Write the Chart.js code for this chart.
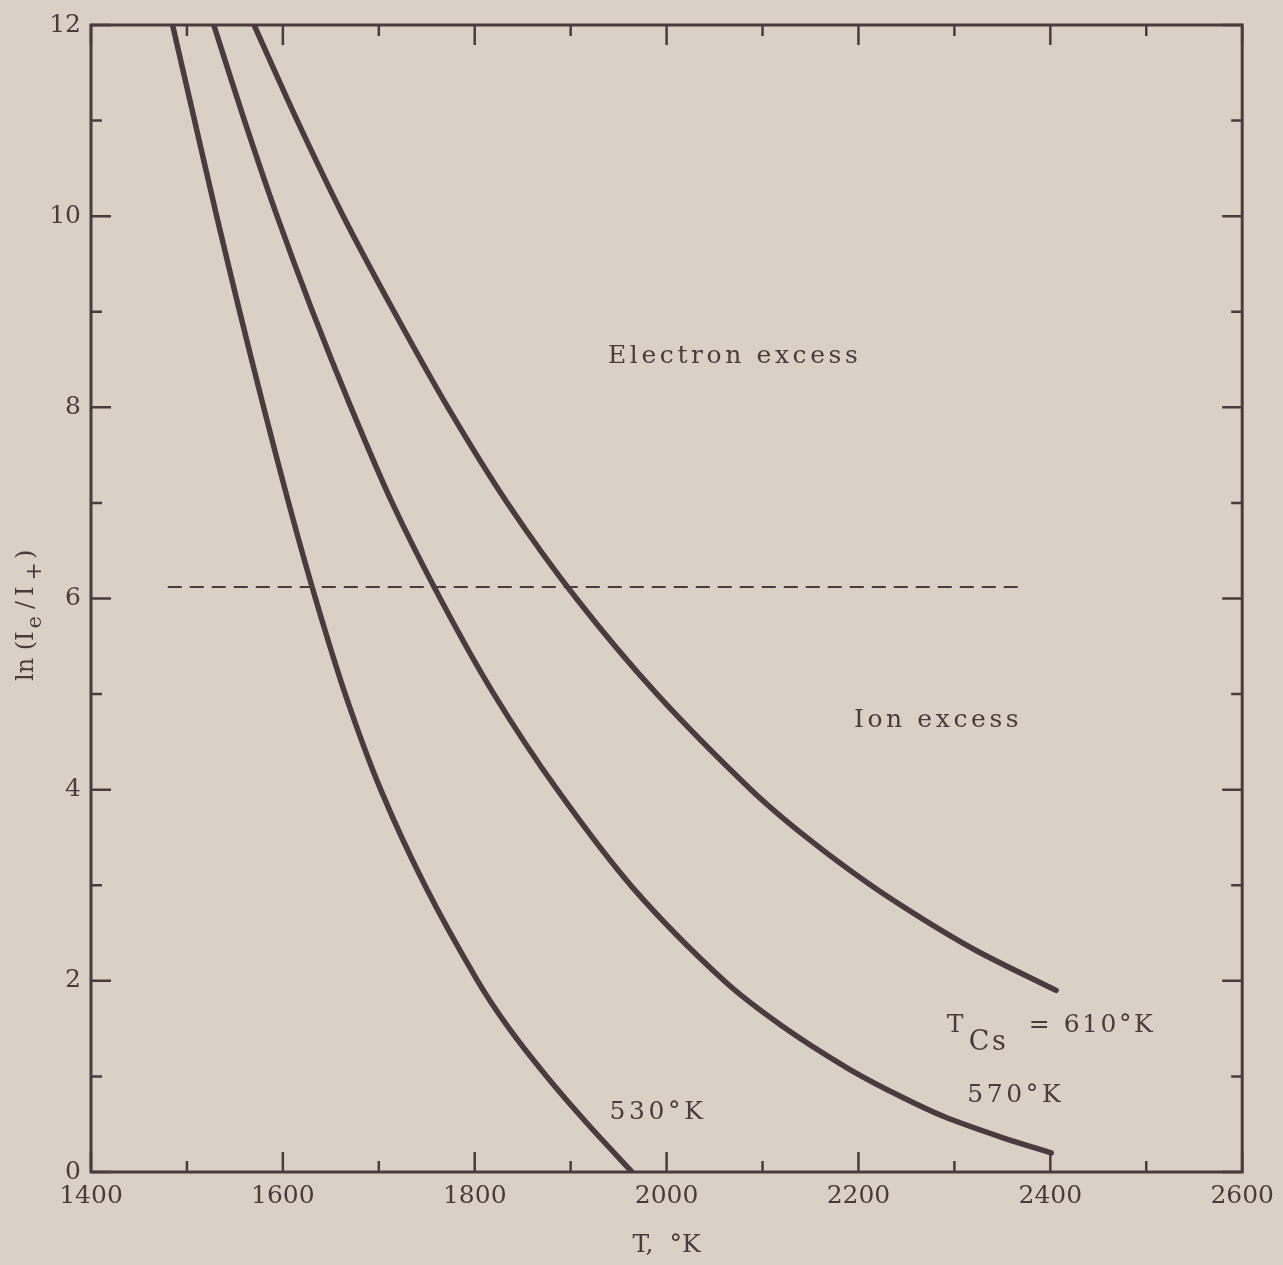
<!DOCTYPE html>
<html>
<head>
<meta charset="utf-8">
<script src="https://cdn.jsdelivr.net/npm/chart.js@4.4.1/dist/chart.umd.min.js"></script>
<style>
  html, body { margin: 0; padding: 0; background: #d9d1c5; }
  #wrap { width: 1283px; height: 1265px; }
</style>
</head>
<body>
<div id="wrap"><canvas id="chart"></canvas></div>
<script>
// values: T in K, ln(Ie/I+)
const temps530 = [1485, 1508, 1531, 1555, 1580, 1606, 1634, 1665, 1702, 1748, 1803, 1836, 1875, 1918, 1964];
const ln530    = [12, 11, 10, 9, 8, 7, 6, 5, 4, 3, 2, 1.5, 1, 0.5, 0];

const temps570 = [1528, 1560, 1594, 1631, 1671, 1714, 1764, 1820, 1886, 1966, 2060, 2120, 2188, 2240, 2289, 2350, 2401];
const ln570    = [12, 11, 10, 9, 8, 7, 6, 5, 4, 2.96, 2.0, 1.53, 1.09, 0.81, 0.58, 0.36, 0.20];

const temps610 = [1570, 1615, 1663, 1716, 1772, 1834, 1906, 1990, 2088, 2146, 2210, 2268, 2324, 2406];
const ln610    = [12, 11, 10, 9, 8, 7, 6, 5, 4, 3.5, 3.02, 2.64, 2.31, 1.90];

// dashed boundary between electron and ion excess
const dashTemps = [1480, 2374];
const dashLn    = [6.12, 6.12];

const xLabels = [1400, 1600, 1800, 2000, 2200, 2400, 2600];
const yLabels = [0, 2, 4, 6, 8, 10, 12];

const ink = '#4a3b3f';
const paper = '#d9d1c5';
const serif = 'DejaVu Serif';

const toPoints = (xs, ys) => xs.map((x, i) => ({ x: x, y: ys[i] }));

const curve = (label, xs, ys) => ({
    label: label,
    data: toPoints(xs, ys),
    borderColor: ink,
    borderWidth: 5.5,
    borderCapStyle: 'round',
    pointRadius: 0,
    tension: 0.3,
    fill: false
});

// background + frame + inward ticks on all four sides
const frameTicks = {
    id: 'frameTicks',
    beforeDraw(chart) {
        const ctx = chart.ctx;
        ctx.save();
        ctx.fillStyle = paper;
        ctx.fillRect(0, 0, chart.width, chart.height);
        ctx.restore();
    },
    afterDraw(chart) {
        const { ctx, chartArea: a, scales: { x, y } } = chart;
        ctx.save();
        ctx.strokeStyle = ink;
        ctx.lineWidth = 3;
        ctx.strokeRect(a.left, a.top, a.right - a.left, a.bottom - a.top);
        ctx.lineWidth = 2.5;
        ctx.beginPath();
        x.ticks.forEach(t => {
            const px = x.getPixelForValue(t.value);
            const len = xLabels.includes(t.value) ? 20 : 11;
            ctx.moveTo(px, a.bottom); ctx.lineTo(px, a.bottom - len);
            ctx.moveTo(px, a.top); ctx.lineTo(px, a.top + len);
        });
        y.ticks.forEach(t => {
            const py = y.getPixelForValue(t.value);
            const len = yLabels.includes(t.value) ? 20 : 11;
            ctx.moveTo(a.left, py); ctx.lineTo(a.left + len, py);
            ctx.moveTo(a.right, py); ctx.lineTo(a.right - len, py);
        });
        ctx.stroke();
        ctx.restore();
    }
};

// region and curve labels, placed in data coordinates
const notes = [
    { text: 'Electron excess', t: 2071, v: 8.53 },
    { text: 'Ion excess', t: 2283, v: 4.72 },
    { text: '530°K', t: 1991, v: 0.62 },
    { text: '570°K', t: 2364, v: 0.80 }
];

const annotations = {
    id: 'annotations',
    afterDraw(chart) {
        const { ctx, scales: { x, y } } = chart;
        ctx.save();
        ctx.fillStyle = ink;
        ctx.font = '25px "' + serif + '"';
        ctx.letterSpacing = '3.6px';
        ctx.textAlign = 'center';
        ctx.textBaseline = 'middle';
        notes.forEach(n => ctx.fillText(n.text, x.getPixelForValue(n.t), y.getPixelForValue(n.v)));

        // T_Cs = 610°K
        const bx = x.getPixelForValue(2292);
        const by = y.getPixelForValue(1.46);
        ctx.textAlign = 'left';
        ctx.textBaseline = 'alphabetic';
        ctx.letterSpacing = '2.5px';
        ctx.fillText('T', bx, by);
        ctx.font = '27px "' + serif + '"';
        ctx.fillText('Cs', bx + 22, by + 18);
        ctx.font = '25px "' + serif + '"';
        ctx.fillText('=', bx + 82, by);
        ctx.fillText('610°K', bx + 117, by);

        // y-axis title ln(Ie/I+)
        ctx.translate(33, 681);
        ctx.rotate(-Math.PI / 2);
        ctx.letterSpacing = '0px';
        let cx = 0;
        const piece = (s, size, dy, gap) => {
            ctx.font = size + 'px "' + serif + '"';
            ctx.fillText(s, cx, dy);
            cx += ctx.measureText(s).width + gap;
        };
        piece('ln (I', 24, 0, 3);
        piece('e', 21, 8, 7);
        piece('/', 24, 0, 5);
        piece('I', 24, 0, 6);
        piece('+', 22, 8, 3);
        piece(')', 24, 0, 0);
        ctx.restore();
    }
};

Chart.defaults.font.family = serif;
Chart.defaults.color = ink;

new Chart(document.getElementById('chart'), {
    type: 'line',
    data: {
        datasets: [
            curve('530°K', temps530, ln530),
            curve('570°K', temps570, ln570),
            curve('610°K', temps610, ln610),
            {
                label: 'boundary',
                data: toPoints(dashTemps, dashLn),
                borderColor: ink,
                borderWidth: 2,
                borderDash: [14, 8],
                pointRadius: 0,
                fill: false
            }
        ]
    },
    options: {
        responsive: true,
        maintainAspectRatio: false,
        animation: false,
        layout: { padding: { top: 22, right: 33, left: 0, bottom: 0 } },
        plugins: {
            legend: { display: false },
            tooltip: { enabled: false }
        },
        scales: {
            x: {
                type: 'linear',
                min: 1400,
                max: 2600,
                grid: { display: false, drawTicks: false },
                border: { display: false },
                ticks: {
                    stepSize: 100,
                    autoSkip: false,
                    maxRotation: 0,
                    padding: 9,
                    font: { size: 25 },
                    callback: v => xLabels.includes(v) ? String(v) : ''
                },
                title: {
                    display: true,
                    text: 'T,  °K',
                    font: { size: 25 },
                    padding: { top: 0, bottom: 5 }
                },
                afterFit: s => { s.height = 93; }
            },
            y: {
                min: 0,
                max: 12,
                grid: { display: false, drawTicks: false },
                border: { display: false },
                ticks: {
                    stepSize: 1,
                    autoSkip: false,
                    padding: 10,
                    font: { size: 25 },
                    callback: v => yLabels.includes(v) ? String(v) : ''
                },
                afterFit: s => { s.width = 91; }
            }
        }
    },
    plugins: [frameTicks, annotations]
});
</script>
</body>
</html>
